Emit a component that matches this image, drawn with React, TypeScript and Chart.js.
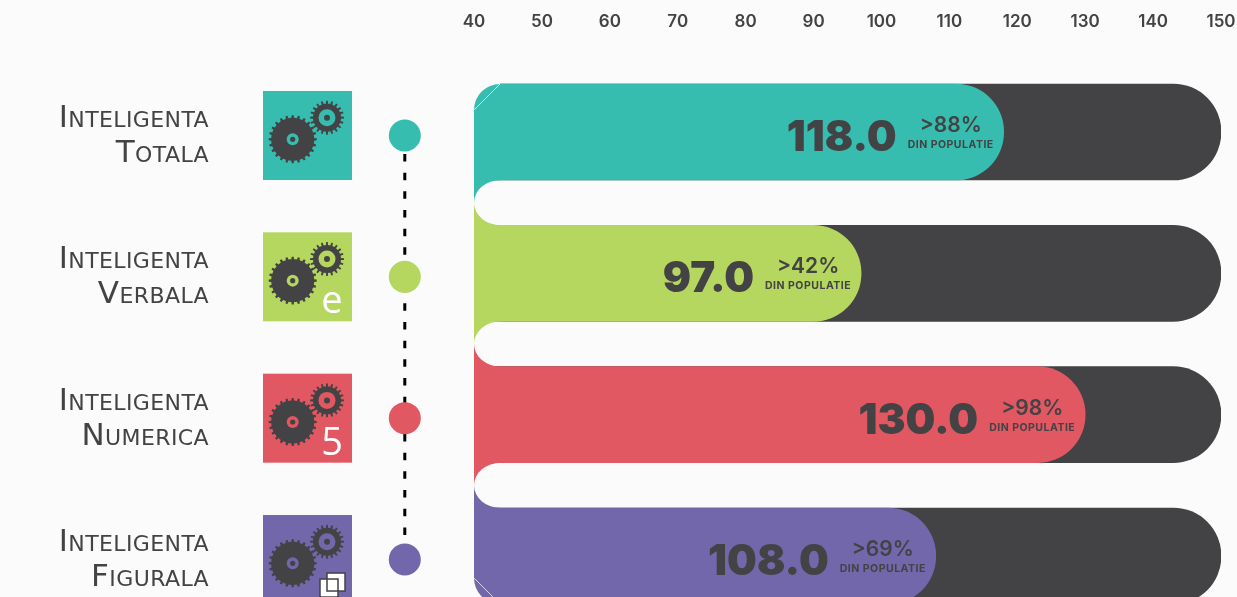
import React, { useEffect, useRef } from "react";
import { Chart, registerables } from "chart.js";

Chart.register(...registerables);

const categories = ["Inteligenta Totala", "Inteligenta Verbala", "Inteligenta Numerica", "Inteligenta Figurala"];
const labelLines = [["Inteligenta", "Totala"], ["Inteligenta", "Verbala"], ["Inteligenta", "Numerica"], ["Inteligenta", "Figurala"]];
const scores = [118, 97, 130, 108];
const trackValues = [150, 150, 150, 150];
const percentiles = [">88%", ">42%", ">98%", ">69%"];
const iconMarks = ["", "e", "5", "copy"];
const subLabel = "DIN POPULATIE";
const axisMin = 40;
const axisMax = 150;

const colors = ["#36BDAF", "#B5D65F", "#E15762", "#7367AB"];
const DARK = "#434244";
const BG = "#FBFBFB";
const FAMILY = "Inter, 'Open Sans', sans-serif";
const BAR = 96;
const CORNER = 26;

function gear(ctx: CanvasRenderingContext2D, cx: number, cy: number, rOuter: number, rBody: number, teeth: number) {
  ctx.beginPath();
  const step = (Math.PI * 2) / teeth;
  for (let i = 0; i < teeth; i++) {
    const a = i * step;
    const pts: [number, number][] = [
      [rBody, a - step * 0.5],
      [rBody, a - step * 0.24],
      [rOuter, a - step * 0.16],
      [rOuter, a + step * 0.16],
      [rBody, a + step * 0.24],
    ];
    pts.forEach(([r, t], k) => {
      const x = cx + r * Math.cos(t);
      const y = cy + r * Math.sin(t);
      if (i === 0 && k === 0) ctx.moveTo(x, y);
      else ctx.lineTo(x, y);
    });
  }
  ctx.closePath();
  ctx.fill();
}

function disc(ctx: CanvasRenderingContext2D, x: number, y: number, r: number, color: string) {
  ctx.fillStyle = color;
  ctx.beginPath();
  ctx.arc(x, y, r, 0, Math.PI * 2);
  ctx.fill();
}

const backdrop = {
  id: "backdrop",
  afterDatasetsDraw(chart: any) {
    const { ctx, scales } = chart;
    const x0 = scales.x.left;
    ctx.save();
    for (let i = 0; i < scores.length - 1; i++) {
      const top = scales.y.getPixelForValue(i) + BAR / 2;
      const bottom = scales.y.getPixelForValue(i + 1) - BAR / 2;
      const mid = (top + bottom) / 2;
      ctx.fillStyle = colors[i];
      ctx.beginPath();
      ctx.moveTo(x0, top - 1);
      ctx.lineTo(x0 + 27, top - 1);
      ctx.lineTo(x0 + 27, top);
      ctx.ellipse(x0 + 27, mid, 27, (bottom - top) / 2, 0, -Math.PI / 2, Math.PI, true);
      ctx.closePath();
      ctx.fill();
      ctx.fillStyle = colors[i + 1];
      ctx.beginPath();
      ctx.moveTo(x0, bottom + 1);
      ctx.lineTo(x0 + 27, bottom + 1);
      ctx.lineTo(x0 + 27, bottom);
      ctx.ellipse(x0 + 27, mid, 27, (bottom - top) / 2, 0, Math.PI / 2, Math.PI, false);
      ctx.closePath();
      ctx.fill();
    }
    // outer corners of the column
    const t = scales.y.getPixelForValue(0) - BAR / 2;
    const b = scales.y.getPixelForValue(scores.length - 1) + BAR / 2;
    ctx.fillStyle = BG;
    ctx.beginPath();
    ctx.moveTo(x0 - 1, t - 1);
    ctx.lineTo(x0 + CORNER, t - 1);
    ctx.lineTo(x0 + CORNER, t);
    ctx.arc(x0 + CORNER, t + CORNER, CORNER, -Math.PI / 2, Math.PI, true);
    ctx.lineTo(x0 - 1, t + CORNER);
    ctx.closePath();
    ctx.fill();
    ctx.beginPath();
    ctx.moveTo(x0 - 1, b + 1);
    ctx.lineTo(x0 + CORNER, b + 1);
    ctx.lineTo(x0 + CORNER, b);
    ctx.arc(x0 + CORNER, b - CORNER, CORNER, Math.PI / 2, Math.PI, false);
    ctx.lineTo(x0 - 1, b - CORNER);
    ctx.closePath();
    ctx.fill();
    ctx.restore();
  },
};

const overlay = {
  id: "overlay",
  afterDraw(chart: any) {
    const { ctx, scales } = chart;
    const xs = scales.x;
    const ys = scales.y;
    ctx.save();

    // dashed connector
    const dotOffset = 3.5;
    const sqLeft = 263;
    const sqSize = 89;
    const dotX = 404.8;
    ctx.strokeStyle = "#000";
    ctx.lineWidth = 3;
    ctx.setLineDash([7.5, 11.17]);
    ctx.beginPath();
    ctx.moveTo(dotX, ys.getPixelForValue(0) + 22);
    ctx.lineTo(dotX, ys.getPixelForValue(3) - 20);
    ctx.stroke();
    ctx.setLineDash([]);

    scores.forEach((score, i) => {
      const cy = ys.getPixelForValue(i) + dotOffset;
      const color = colors[i];

      // category label
      ctx.fillStyle = DARK;
      ctx.textAlign = "right";
      ctx.textBaseline = "alphabetic";
      ctx.font = `small-caps 400 31px 'DejaVu Sans', sans-serif`;
      (ctx as any).letterSpacing = "0.4px";
      ctx.fillText(labelLines[i][0], 209, cy - 8.5);
      ctx.fillText(labelLines[i][1], 209, cy + 26.5);
      (ctx as any).letterSpacing = "0px";

      // icon tile
      const sqTop = cy - sqSize / 2;
      ctx.fillStyle = color;
      ctx.fillRect(sqLeft, sqTop, sqSize, sqSize);
      ctx.fillStyle = DARK;
      gear(ctx, sqLeft + 29.7, sqTop + 48.3, 24, 21.5, 24);
      disc(ctx, sqLeft + 29.7, sqTop + 48.3, 6, color);
      disc(ctx, sqLeft + 29.7, sqTop + 48.3, 2.6, DARK);
      ctx.fillStyle = DARK;
      gear(ctx, sqLeft + 64, sqTop + 26.7, 17, 14, 20);
      disc(ctx, sqLeft + 64, sqTop + 26.7, 8.5, color);
      disc(ctx, sqLeft + 64, sqTop + 26.7, 3, DARK);
      const mark = iconMarks[i];
      if (mark === "copy") {
        ctx.fillStyle = "#fff";
        ctx.strokeStyle = DARK;
        ctx.lineWidth = 1.5;
        ctx.fillRect(sqLeft + 57, sqTop + 64, 18, 18);
        ctx.fillRect(sqLeft + 64, sqTop + 58, 18, 18);
        ctx.strokeRect(sqLeft + 57, sqTop + 64, 18, 18);
        ctx.strokeRect(sqLeft + 64, sqTop + 58, 18, 18);
      } else if (mark) {
        ctx.fillStyle = "#fff";
        ctx.textAlign = "center";
        ctx.font = `400 38px 'Open Sans', sans-serif`;
        ctx.fillText(mark, sqLeft + 69, sqTop + 81);
      }

      // timeline dot
      disc(ctx, dotX, cy, 16, color);

      // value labels
      const cyBar = ys.getPixelForValue(i);
      const end = xs.getPixelForValue(score);
      ctx.fillStyle = DARK;
      ctx.textAlign = "right";
      ctx.textBaseline = "alphabetic";
      ctx.font = `900 42px ${FAMILY}`;
      ctx.fillText(score.toFixed(1), end - 107, cyBar + 19);
      ctx.textAlign = "center";
      ctx.font = `600 21px ${FAMILY}`;
      ctx.fillText(percentiles[i], end - 53, cyBar + 0);
      ctx.font = `700 10.5px ${FAMILY}`;
      (ctx as any).letterSpacing = "0.5px";
      ctx.fillText(subLabel, end - 53, cyBar + 16);
      (ctx as any).letterSpacing = "0px";
    });

    // hairline seams on the outer corners
    ctx.strokeStyle = "rgba(255,255,255,0.7)";
    ctx.lineWidth = 1;
    const x0 = xs.left;
    const t = ys.getPixelForValue(0) - BAR / 2;
    const b = ys.getPixelForValue(3) + BAR / 2;
    ctx.beginPath();
    ctx.moveTo(x0, t + CORNER);
    ctx.lineTo(x0 + CORNER, t);
    ctx.moveTo(x0, b - CORNER);
    ctx.lineTo(x0 + CORNER, b);
    ctx.stroke();
    ctx.restore();
  },
};

export default function App() {
  const ref = useRef<HTMLCanvasElement>(null);
  useEffect(() => {
    if (!ref.current) return;
    const chart = new Chart(ref.current, {
      type: "bar",
      data: {
        labels: categories,
        datasets: [
          {
            label: "Scor",
            data: scores,
            backgroundColor: colors,
            barThickness: BAR,
            grouped: false,
            order: 1,
            borderSkipped: false,
            borderRadius: { topRight: BAR / 2, bottomRight: BAR / 2, topLeft: 0, bottomLeft: 0 },
          },
          {
            label: "Maxim",
            data: trackValues,
            backgroundColor: DARK,
            barThickness: BAR,
            grouped: false,
            order: 2,
            borderSkipped: false,
            borderRadius: { topRight: BAR / 2, bottomRight: BAR / 2, topLeft: 0, bottomLeft: 0 },
          },
        ],
      } as any,
      options: {
        indexAxis: "y",
        responsive: false,
        animation: false,
        layout: { padding: { left: 474, right: 16, top: 0, bottom: 13.3 } },
        plugins: { legend: { display: false }, tooltip: { enabled: false } },
        scales: {
          x: {
            position: "top",
            min: axisMin,
            max: axisMax,
            grid: { display: false },
            border: { display: false },
            ticks: {
              stepSize: 10,
              maxRotation: 0,
              autoSkip: false,
              color: DARK,
              padding: 21,
              font: { family: FAMILY, size: 17, weight: "600" },
            },
            afterFit: (s: any) => {
              s.height = 61.3;
              s.paddingRight = 0;
              s.paddingLeft = 0;
            },
          },
          y: { display: false },
        },
      } as any,
      plugins: [backdrop, overlay],
    });
    return () => chart.destroy();
  }, []);
  return (
    <div style={{ position: "fixed", inset: 0, overflow: "hidden", background: BG }}>
      <canvas ref={ref} width={1237} height={640} style={{ display: "block" }} />
    </div>
  );
}
